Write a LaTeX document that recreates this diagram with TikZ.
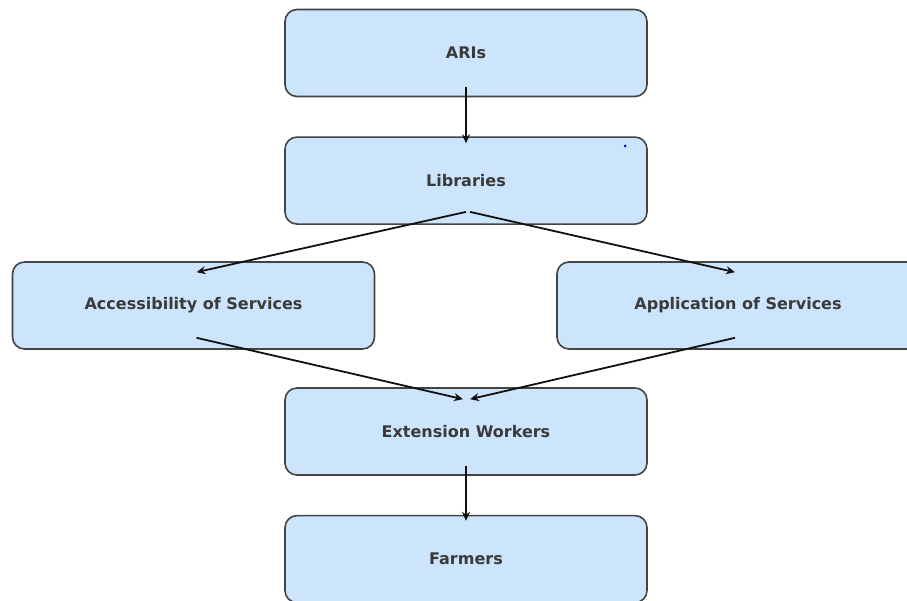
\documentclass[tikz,border=0pt]{standalone}
\usepackage{fontspec}
\setmainfont{DejaVu Sans}
\usepackage{tikz}
\usetikzlibrary{positioning,arrows.meta}
\definecolor{flowfill}{HTML}{CCE4FC}
\definecolor{flowline}{HTML}{444444}
\definecolor{flowtext}{HTML}{3A3A3A}
\definecolor{flowink}{HTML}{111111}

\begin{document}
\begin{tikzpicture}[
  x=1pt, y=1pt,
  font=\fontsize{16}{19}\selectfont\bfseries,
  box/.style={draw=flowline, line width=1.6pt, fill=flowfill, rounded corners=12pt,
    minimum width=362pt, minimum height=87pt, text=flowtext, inner sep=0pt},
  arr/.style={-{Stealth[length=9pt,width=8pt]}, line width=1.8pt, draw=flowink}
]
\useasboundingbox (0,0) rectangle (907,-601);
\clip (0,0) rectangle (907,-601);

\node[box] (aris) at (466,-53) {ARIs};
\node[box, below=39pt of aris] (libs) {Libraries};
\node[box] (access) at (193.5,-305.5) {Accessibility of Services};
\node[box] (apply) at (738,-305.5) {Application of Services};
\node[box] (ext) at (466,-431.5) {Extension Workers};
\node[box, below=39pt of ext] (farm) {Farmers};

% stray marker on the libraries box
\fill[blue] (625,-146) circle (1.5pt);

% arrows start and stop a little inside the boxes
\draw[arr] ([yshift=10pt]aris.south) -- ([yshift=-7pt]libs.north);
\draw[arr] ([yshift=13pt]libs.south) -- ([xshift=3pt,yshift=-11pt]access.north);
\draw[arr] ([xshift=4pt,yshift=13pt]libs.south) -- ([xshift=-3pt,yshift=-11pt]apply.north);
\draw[arr] ([xshift=3pt,yshift=12pt]access.south) -- ([xshift=-3pt,yshift=-12pt]ext.north);
\draw[arr] ([xshift=-3pt,yshift=12pt]apply.south) -- ([xshift=4pt,yshift=-12pt]ext.north);
\draw[arr] ([yshift=10pt]ext.south) -- ([yshift=-6pt]farm.north);
\end{tikzpicture}
\end{document}
